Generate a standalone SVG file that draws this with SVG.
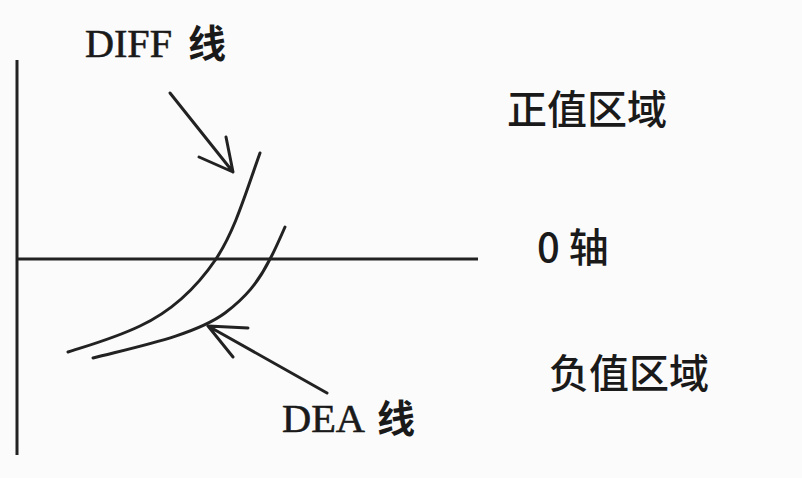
<svg xmlns="http://www.w3.org/2000/svg" width="802" height="478" viewBox="0 0 802 478">
<style>
.ln{fill:none;stroke:#222;stroke-width:3;stroke-linecap:round;stroke-linejoin:round}
.ax{fill:none;stroke:#222;stroke-width:3}
.lat{font-family:"Liberation Serif",serif;font-size:40px;fill:#1a1a1a;stroke:#1a1a1a;stroke-width:0.6}
.cjk{font-family:"Noto Sans CJK SC",sans-serif;font-size:40px;fill:#1a1a1a;font-weight:500}
.cjkb{font-family:"Noto Sans CJK SC",sans-serif;font-size:38px;fill:#1a1a1a;font-weight:bold}
</style>
<rect width="802" height="478" fill="#fbfbfb"/>
<g id="axes">
<line class="ax" x1="17" y1="60" x2="17" y2="455"/>
<line class="ax" x1="17" y1="259" x2="478" y2="259"/>
</g>
<g id="curves">
<path id="diff-line" class="ln" d="M260,153 C245,195 235,230 216,259 C195,290 170,312 140,326 C115,338 90,345 68,352"/>
<path id="dea-line" class="ln" d="M285,227 C278,243 274,252 270,259 C258,283 245,298 225,313 C195,335 140,346 93,358"/>
</g>
<g id="connectors">
<path class="ln" d="M170,93 L233,172 M199,157 L233,172 L226,137"/>
<path class="ln" d="M327,393 L208,326 M248,328 L208,326 L233,357"/>
</g>
<g id="labels">
<g id="diff-label">
<text class="lat" x="85" y="57" textLength="87" lengthAdjust="spacingAndGlyphs">DIFF</text>
<text class="cjkb" x="188" y="57">线</text>
</g>
<g id="dea-label">
<text class="lat" x="282" y="432" textLength="83" lengthAdjust="spacingAndGlyphs">DEA</text>
<text class="cjkb" x="377" y="432">线</text>
</g>
<text class="cjk" x="507" y="124">正值区域</text>
<text class="cjk" x="537" y="262">0 轴</text>
<text class="cjk" x="549" y="388">负值区域</text>
</g>
</svg>
